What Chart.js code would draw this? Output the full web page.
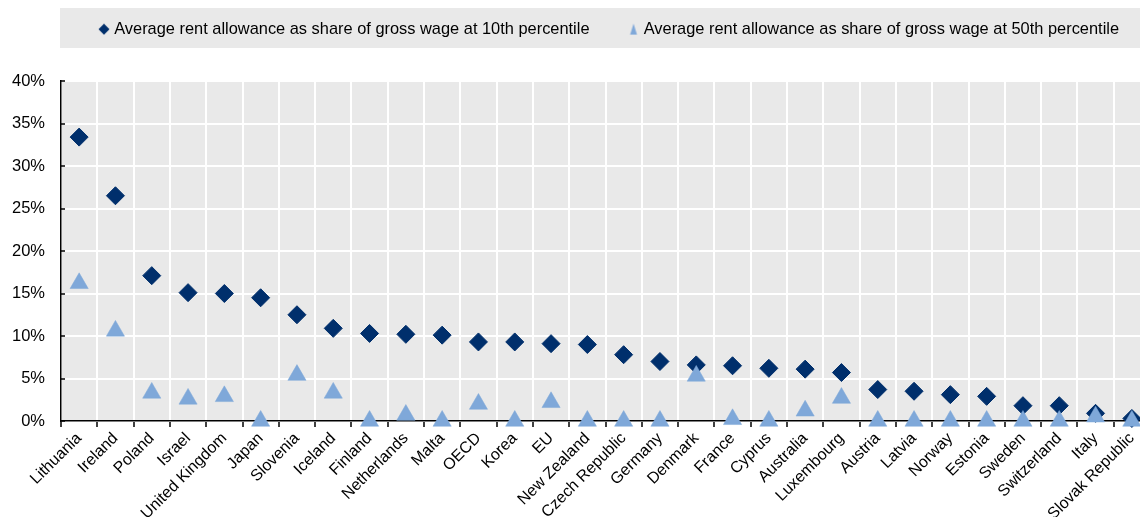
<!DOCTYPE html>
<html>
<head>
<meta charset="utf-8">
<script src="https://cdn.jsdelivr.net/npm/chart.js@4.4.1/dist/chart.umd.min.js"></script>
<style>
  html, body { margin: 0; padding: 0; background: #fff; overflow: hidden; }
  #wrap { width: 1150px; height: 517px; }
  #myChart { width: 1150px; height: 517px; }
</style>
</head>
<body>
<div id="wrap"><canvas id="myChart" width="1150" height="517"></canvas></div>
<script>
const countries = ['Lithuania', 'Ireland', 'Poland', 'Israel', 'United Kingdom', 'Japan', 'Slovenia', 'Iceland',
    'Finland', 'Netherlands', 'Malta', 'OECD', 'Korea', 'EU', 'New Zealand', 'Czech Republic', 'Germany',
    'Denmark', 'France', 'Cyprus', 'Australia', 'Luxembourg', 'Austria', 'Latvia', 'Norway', 'Estonia',
    'Sweden', 'Switzerland', 'Italy', 'Slovak Republic'];

// share of gross wage, %
const wage10 = [33.4, 26.5, 17.1, 15.1, 15.0, 14.5, 12.5, 10.9, 10.3, 10.2, 10.1, 9.3, 9.3, 9.1, 9.0,
    7.8, 7.0, 6.6, 6.5, 6.2, 6.1, 5.7, 3.7, 3.5, 3.1, 2.9, 1.8, 1.8, 0.9, 0.3];
const wage50 = [16.2, 10.6, 3.3, 2.6, 2.9, 0, 5.4, 3.3, 0, 0.7, 0, 2.0, 0, 2.2, 0,
    0, 0, 5.3, 0.2, 0, 1.2, 2.7, 0, 0, 0, 0, 0, 0, 0.5, 0];

const yMin = 0;
const yMax = 40;
const yStep = 5;

const label10 = 'Average rent allowance as share of gross wage at 10th percentile';
const label50 = 'Average rent allowance as share of gross wage at 50th percentile';

const dark = '#002F6C';
const light = '#7FA8D9';

Chart.defaults.font.family = "'Liberation Sans', Arial, sans-serif";
Chart.defaults.color = '#000';

// small markers for the legend
const legendMarker = (shape, color) => {
    const c = document.createElement('canvas');
    c.width = 12; c.height = 12;
    const g = c.getContext('2d');
    g.fillStyle = color;
    g.beginPath();
    if (shape === 'diamond') {
        g.moveTo(6, 0.5); g.lineTo(11.5, 6); g.lineTo(6, 11.5); g.lineTo(0.5, 6);
    } else {
        g.moveTo(6, 0.5); g.lineTo(9.5, 11.5); g.lineTo(2.5, 11.5);
    }
    g.closePath();
    g.fill();
    return c;
};
const diamondMark = legendMarker('diamond', dark);
const triangleMark = legendMarker('triangle', light);

// grey legend band + grey plot area, legend placed inside the band
const backgrounds = {
    id: 'backgrounds',
    beforeInit(chart) {
        const fit = chart.legend.fit;
        chart.legend.fit = function () {
            this.maxWidth = 3000;
            fit.call(this);
            this.width = chart.width;
            this.height = 81;
        };
    },
    afterLayout(chart) {
        chart.legend.left = 60;
        chart.legend.right = 1400;
        chart.legend.top = -21;
    },
    beforeDraw(chart) {
        const ctx = chart.ctx;
        const a = chart.chartArea;
        ctx.save();
        ctx.fillStyle = '#e9e9e9';
        ctx.fillRect(60, 8, chart.width - 60, 40);
        ctx.fillRect(a.left, a.top, a.right - a.left, a.bottom - a.top);
        ctx.restore();
    }
};

var ctx = document.getElementById('myChart').getContext('2d');
var chart = new Chart(ctx, {
    type: 'line',
    data: {
        labels: countries,
        datasets: [
            {
                label: label10,
                data: wage10,
                showLine: false,
                pointStyle: 'rectRot',
                pointRadius: 9,
                pointHoverRadius: 9,
                pointBackgroundColor: dark,
                pointBorderColor: dark,
                pointBorderWidth: 1,
                backgroundColor: dark,
                borderColor: dark,
                clip: false,
                order: 1
            },
            {
                label: label50,
                data: wage50,
                showLine: false,
                pointStyle: 'triangle',
                pointRadius: 10.5,
                pointHoverRadius: 10.5,
                pointBackgroundColor: light,
                pointBorderColor: light,
                pointBorderWidth: 0.5,
                backgroundColor: light,
                borderColor: light,
                clip: false,
                order: 0
            }
        ]
    },
    options: {
        responsive: false,
        animation: false,
        layout: { padding: 0, autoPadding: false },
        plugins: {
            tooltip: { enabled: false },
            legend: {
                position: 'top',
                align: 'start',
                labels: {
                    usePointStyle: true,
                    boxWidth: 4,
                    boxHeight: 12,
                    padding: 42,
                    font: { size: 16.4 },
                    color: '#000',
                    generateLabels: (chart) => chart.data.datasets.map((ds, i) => ({
                        text: ds.label,
                        pointStyle: i === 0 ? diamondMark : triangleMark,
                        fillStyle: ds.backgroundColor,
                        strokeStyle: ds.borderColor,
                        lineWidth: 0,
                        datasetIndex: i,
                        hidden: false
                    }))
                }
            }
        },
        scales: {
            x: {
                offset: true,
                grid: { offset: true, color: '#fff', lineWidth: 2, tickColor: '#000', tickLength: 6, tickWidth: 1.5 },
                border: { color: '#000', width: 1.5 },
                ticks: {
                    autoSkip: false,
                    maxRotation: 45,
                    minRotation: 45,
                    padding: 2,
                    font: { size: 16 },
                    color: '#000'
                },
                afterFit: (scale) => {
                    scale.height = 96;
                    scale.paddingLeft = 0;
                    scale.paddingRight = 0;
                }
            },
            y: {
                min: yMin,
                max: yMax,
                grid: { color: '#fff', lineWidth: 2, drawTicks: true, tickLength: -4, tickColor: '#000', tickWidth: 1.5 },
                border: { color: '#000', width: 1.5 },
                ticks: {
                    stepSize: yStep,
                    padding: 20,
                    font: { size: 16.5 },
                    color: '#000',
                    callback: (v) => v + '%'
                },
                afterFit: (scale) => { scale.width = 61; }
            }
        }
    },
    plugins: [backgrounds]
});
</script>
</body>
</html>
